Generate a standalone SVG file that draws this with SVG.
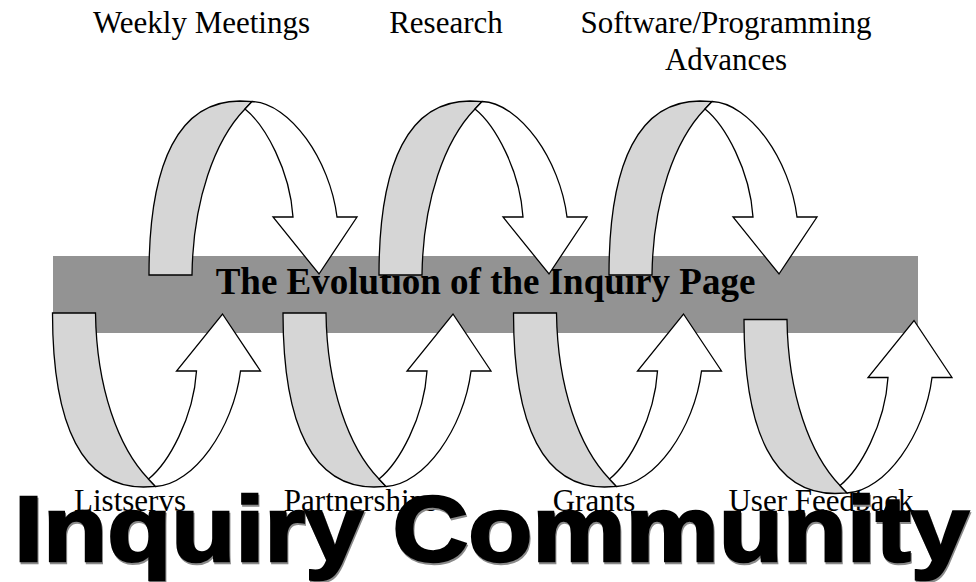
<svg xmlns="http://www.w3.org/2000/svg" xmlns:xlink="http://www.w3.org/1999/xlink" width="976" height="582" viewBox="0 0 976 582">
  <style>
    .back { fill: #d6d6d6; stroke: #000; stroke-width: 1.3; stroke-linejoin: miter; }
    .front { fill: #fff; stroke: #000; stroke-width: 1.3; stroke-linejoin: miter; }
    .band { fill: #939393; }
    .label { font-family: "Liberation Serif", "Times New Roman", serif; font-size: 31px; fill: #000; }
    .title { font-family: "Liberation Serif", "Times New Roman", serif; font-size: 37px; font-weight: bold; fill: #000; }
    .big { font-family: "Liberation Sans", Arial, sans-serif; font-size: 92px; font-weight: bold; stroke-width: 2.5; stroke-linejoin: miter; }
  </style>
  <defs>
    <!-- curled ribbon arrow; origin at the foot of the grey back strip, arrow points down to the baseline -->
    <g id="curl">
      <path class="back" d="M0,0 C0,-115 31,-174 91,-174 L103,-173.5 L96,-166 C66,-135 44,-75 43,0 Z"/>
      <path class="front" d="M96,-166 C116,-150 141,-105 144,-58 L124,-58 L170,-1 L208,-58 L188,-58 C181,-115 141,-172 103,-173.5 Z"/>
    </g>
  </defs>

  <!-- central band with the title -->
  <g id="band">
    <rect class="band" x="53" y="256" width="865" height="77"/>
    <text class="title" x="485.5" y="294" text-anchor="middle">The Evolution of the Inquiry Page</text>
  </g>

  <!-- labels above and below the band -->
  <g id="labels">
    <text class="label" x="93" y="33">Weekly Meetings</text>
    <text class="label" x="446" y="33" text-anchor="middle">Research</text>
    <text class="label" x="726" y="33" text-anchor="middle">Software/Programming</text>
    <text class="label" x="726" y="70" text-anchor="middle">Advances</text>
    <text class="label" x="130" y="511" text-anchor="middle">Listservs</text>
    <text class="label" x="360.5" y="511" text-anchor="middle">Partnerships</text>
    <text class="label" x="594" y="511" text-anchor="middle">Grants</text>
    <text class="label" x="821" y="511" text-anchor="middle">User Feedback</text>
  </g>

  <!-- upper arrows curling down into the band -->
  <g id="arrow-weekly-meetings"><use xlink:href="#curl" href="#curl" transform="translate(149,275)"/></g>
  <g id="arrow-research"><use xlink:href="#curl" href="#curl" transform="translate(379,275)"/></g>
  <g id="arrow-software"><use xlink:href="#curl" href="#curl" transform="translate(609,275)"/></g>

  <!-- lower arrows curling up into the band -->
  <g id="arrow-listservs"><use xlink:href="#curl" href="#curl" transform="translate(52.5,313) scale(1,-1)"/></g>
  <g id="arrow-partnerships"><use xlink:href="#curl" href="#curl" transform="translate(283,313) scale(1,-1)"/></g>
  <g id="arrow-grants"><use xlink:href="#curl" href="#curl" transform="translate(513.5,313) scale(1,-1)"/></g>
  <g id="arrow-user-feedback"><use xlink:href="#curl" href="#curl" transform="translate(744,319.5) scale(1,-1)"/></g>

  <!-- heavy caption along the bottom -->
  <g id="caption">
    <text class="big" x="15" y="562.5" textLength="955" lengthAdjust="spacingAndGlyphs" fill="#8a8a8a" stroke="#8a8a8a">Inquiry Community</text>
    <text class="big" x="14" y="561" textLength="955" lengthAdjust="spacingAndGlyphs" fill="#000" stroke="#000">Inquiry Community</text>
  </g>
</svg>
